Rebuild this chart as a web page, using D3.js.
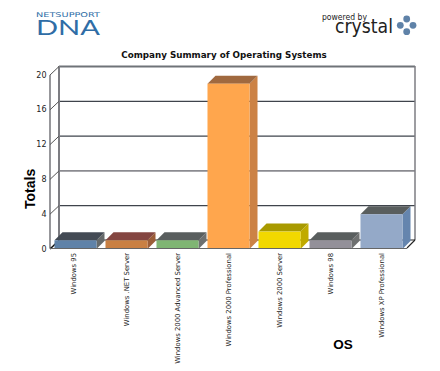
<!DOCTYPE html>
<html><head><meta charset="utf-8">
<script src="https://cdn.jsdelivr.net/npm/d3@7"></script>
<style>html,body{margin:0;padding:0;background:#fff}svg{display:block}</style>
</head><body><svg id="c" width="440" height="371"></svg>
<script>
const categories=["Windows 95","Windows .NET Server","Windows 2000 Advanced Server","Windows 2000 Professional","Windows 2000 Server","Windows 98","Windows XP Professional"];
const totals=[1,1,1,19,2,1,4];
const frontColors=["#5f82a8","#c98043","#7fb573","#ffa64d","#f2d800","#939099","#94a9c8"];
const topColors=["#434a54","#844641","#595e5e","#a0693f","#a89a00","#595e5e","#595e5e"];
const sideColors=["#666a6a","#9b5d38","#6e7070","#cc8245","#c0aa00","#6e7070","#6585ae"];
const yTicks=[0,4,8,12,16,20];
const heavyTicks=[8];
const title="Company Summary of Operating Systems";
const yLabel="Totals", xLabel="OS";

const svg=d3.select("#c");
const bd=8;
const x=d3.scaleBand().domain(categories).range([50,407]).paddingInner(0.176).paddingOuter(0.088);
const y=d3.scaleLinear().domain([0,20]).range([249,75]);
const yBack=d3.scaleLinear().domain([0,20]).range([240.5,66.5]);
const sans="'DejaVu Sans',Verdana,sans-serif";
const arial="'Liberation Sans',Arial,sans-serif";
const pts=a=>a.map(p=>p.join(",")).join(" ");

// header logos
svg.append("text").attr("x",36).attr("y",16.8).attr("font-family",sans).attr("font-size",6.6).attr("fill","#2f6da6").attr("textLength",64).attr("lengthAdjust","spacingAndGlyphs").text("NETSUPPORT");
svg.append("text").attr("x",36).attr("y",34.7).attr("font-family","Lato,"+sans).attr("font-weight",400).attr("font-size",22).attr("fill","#2f6da6").attr("textLength",64).attr("lengthAdjust","spacingAndGlyphs").text("DNA");
svg.append("text").attr("x",322).attr("y",20).attr("font-family",sans).attr("font-size",8.5).attr("fill","#222").attr("textLength",45).attr("lengthAdjust","spacingAndGlyphs").text("powered by");
svg.append("text").attr("x",335).attr("y",33.3).attr("font-family",sans).attr("font-size",19).attr("fill","#222").attr("textLength",58).attr("lengthAdjust","spacingAndGlyphs").text("crystal");
const logoDots=[[406.7,19],[400.3,25.3],[413,25.3],[406.7,31.7]];
svg.selectAll(".dot").data(logoDots).join("circle").attr("cx",d=>d[0]).attr("cy",d=>d[1]).attr("r",3.4).attr("fill","#5f82a8");

svg.append("text").attr("x",224).attr("y",58).attr("text-anchor","middle").attr("font-family",sans).attr("font-weight","bold").attr("font-size",8.75).attr("fill","#111").text(title);

// walls and grid
const wall="#7d7d82";
svg.selectAll(".grid").data(yTicks.slice(1)).join("line")
 .attr("x1",59).attr("x2",415).attr("y1",d=>yBack(d)).attr("y2",d=>yBack(d))
 .attr("stroke",d=>heavyTicks.includes(d)?"#8b8b90":(d==20?"#6f7378":"#3f444c")).attr("stroke-width",d=>heavyTicks.includes(d)||d==20?1.8:1.2);
svg.append("line").attr("x1",59).attr("x2",59).attr("y1",66).attr("y2",240).attr("stroke",wall).attr("stroke-width",2);
svg.append("line").attr("x1",415).attr("x2",415).attr("y1",66).attr("y2",240).attr("stroke",wall).attr("stroke-width",1.5);
svg.append("line").attr("x1",50).attr("x2",50).attr("y1",75).attr("y2",248).attr("stroke",wall).attr("stroke-width",1.6);
svg.append("line").attr("x1",59).attr("x2",415).attr("y1",240).attr("y2",240).attr("stroke","#222").attr("stroke-width",1.2);
// floor & diagonals
svg.selectAll(".diag").data(yTicks).join("line")
 .attr("x1",50).attr("y1",d=>y(d)).attr("x2",59).attr("y2",d=>yBack(d)).attr("stroke",d=>d==0?"#111":"#555").attr("stroke-width",d=>d==0?1.6:1);
svg.append("line").attr("x1",407).attr("y1",248).attr("x2",415).attr("y2",240).attr("stroke","#222").attr("stroke-width",1.1);

// tick labels
svg.selectAll(".yt").data(yTicks).join("text").attr("x",46.5).attr("y",d=>y(d)+2.5).attr("text-anchor","end")
 .attr("font-family",sans).attr("font-size",8).attr("fill","#222").text(d=>d);

// 3-D bars
const bars=svg.selectAll(".bar").data(categories).join("g");
bars.append("polygon").attr("fill",(d,i)=>sideColors[i]).attr("points",(d,i)=>{const a=x(d)+x.bandwidth(),t=y(totals[i]),b=y(0);return pts([[a,t],[a+bd,t-bd],[a+bd,b-bd],[a,b]]);});
bars.append("polygon").attr("fill",(d,i)=>topColors[i]).attr("points",(d,i)=>{const a=x(d),w=x.bandwidth(),t=y(totals[i]);return pts([[a,t],[a+bd,t-bd],[a+w+bd,t-bd],[a+w,t]]);});
bars.append("rect").attr("x",d=>x(d)).attr("width",x.bandwidth()).attr("y",(d,i)=>y(totals[i])).attr("height",(d,i)=>y(0)-y(totals[i])).attr("fill",(d,i)=>frontColors[i]);
svg.append("line").attr("x1",50).attr("x2",407).attr("y1",248.5).attr("y2",248.5).attr("stroke","#666").attr("stroke-width",1.2);

// category labels
svg.selectAll(".xt").data(categories).join("text")
 .attr("transform",(d,i)=>`translate(${x(d)+x.bandwidth()/2+(i===0?0:2.5)},253) rotate(-90)`).attr("text-anchor","end")
 .attr("font-family",sans).attr("font-size",6.85).attr("fill","#222").text(d=>d);

svg.append("text").attr("transform","translate(35,209) rotate(-90)").attr("font-family",arial).attr("font-weight","bold").attr("font-size",14).attr("fill","#000").text(yLabel);
svg.append("text").attr("x",343).attr("y",348.5).attr("text-anchor","middle").attr("font-family",arial).attr("font-weight","bold").attr("font-size",13.5).attr("fill","#000").text(xLabel);
</script></body></html>
